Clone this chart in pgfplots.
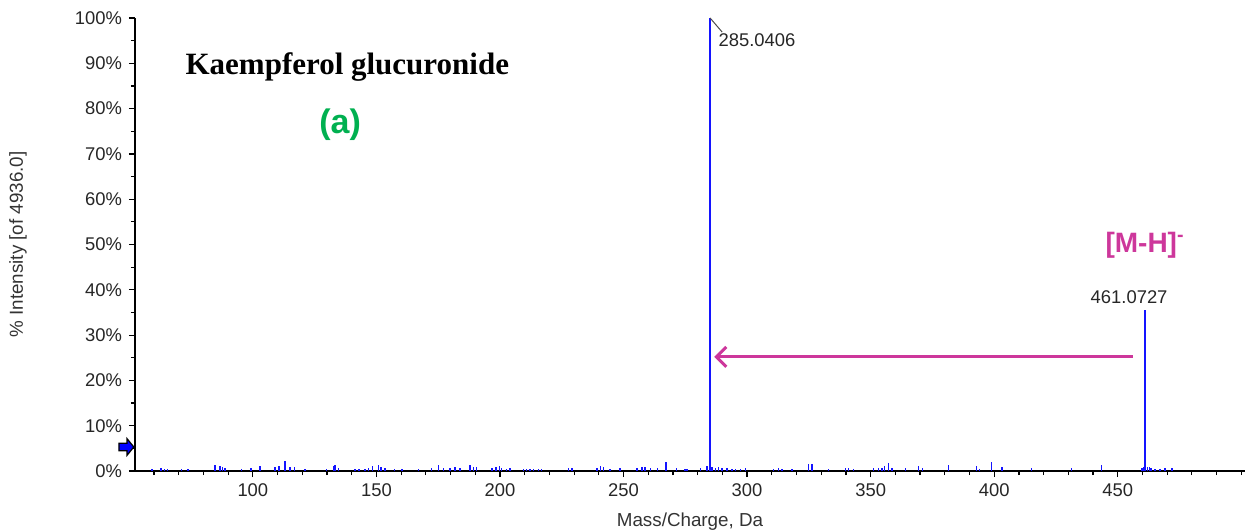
\documentclass[border=0pt]{standalone}
\usepackage{fontspec}
\setmainfont{Liberation Sans}
\newfontfamily\seriffont{Liberation Serif}
\usepackage{pgfplots}
\pgfplotsset{compat=1.18}
\usetikzlibrary{arrows.meta}
\definecolor{mag}{RGB}{205,55,155}
\definecolor{grn}{RGB}{0,176,80}
\definecolor{pk}{RGB}{20,20,255}
\begin{document}
\begin{tikzpicture}
\begin{axis}[
 name=ax,
 scale only axis, width=555pt, height=226.5pt,
 xmin=52.3, xmax=501.5, ymin=0, ymax=100,
 axis x line=bottom, axis y line=left,
 axis line style={-, line width=0.9pt, black},
 tick align=outside,
 xtick={100,150,...,450}, minor xtick={60,70,...,500},
 ytick={0,10,...,100}, minor ytick={5,15,...,95},
 major tick length=3pt, minor tick length=2pt,
 every tick/.style={black, line width=0.6pt},
 yticklabel={\pgfmathprintnumber{\tick}\%},
 ticklabel style={font=\fontsize{9.2}{10}\selectfont, text=black!85},
 /pgf/number format/assume math mode=true,
 xlabel={Mass/Charge, Da}, ylabel={\% Intensity [of 4936.0]},
 label style={font=\fontsize{9.4}{10}\selectfont, text=black!80},
 xlabel style={at={(axis description cs:0.5,-0.1126)}, anchor=center},
 ylabel style={at={(axis description cs:-0.1054,0.5)}, anchor=center},
 clip=false,
]
\addplot[ycomb, pk, line width=0.7pt, mark=none] coordinates {
(59.1,0.5) (62.9,0.6) (64.2,0.5) (65.4,0.5) (71.2,0.4) (73.7,0.4)
(84.7,1.3) (86.7,1.0) (87.7,0.8) (88.8,0.6) (95.5,0.5) (99.3,0.7)
(102.9,1.0) (109.0,0.8) (110.6,1.2) (113.0,2.2) (115.1,0.8) (116.8,0.8)
(121.1,0.5) (129.9,0.5) (132.6,1.0) (133.3,1.4) (134.6,0.7) (141.4,0.5)
(143.0,0.5) (145.4,0.5) (146.8,0.7) (148.4,1.0) (150.8,1.3) (151.9,0.8)
(153.5,0.6) (157.3,0.5) (160.3,0.5)
(167.0,0.5) (172.4,0.6) (175.1,1.4) (177.1,0.6) (179.8,0.6) (181.8,0.8)
(183.9,0.7) (187.9,1.3) (189.3,0.8) (190.6,0.8) (196.7,0.6) (198.4,0.8)
(199.8,1.0) (200.7,0.6) (202.7,0.5) (204.1,0.6) (209.5,0.5) (210.8,0.5)
(212.2,0.5) (213.5,0.5) (215.6,0.5) (216.9,0.4) (227.7,0.6) (229.1,0.6)
(239.2,0.7) (240.8,1.0) (241.9,0.8) (244.6,0.5) (248.6,0.6) (255.4,0.6)
(257.4,0.8) (258.7,0.8) (260.8,0.6) (263.7,0.6) (267.2,2.0) (271.5,0.6)
(274.9,0.5)
(275.7,0.5) (281.1,0.6) (283.8,1.0) (285.8,0.8) (287.1,0.6) (288.5,0.8)
(289.8,0.6) (291.9,0.6) (293.9,0.5) (295.2,0.5) (297.3,0.5) (299.3,0.7)
(310.7,0.5) (312.8,0.6) (314.1,0.5) (318.2,0.5) (324.9,1.5) (326.3,1.5)
(333.0,0.5) (339.8,0.6) (341.1,0.6) (343.1,0.5) (351.2,0.6) (353.2,0.6)
(354.6,0.6) (355.7,1.0) (357.3,1.8) (358.6,0.6) (364.0,0.7) (369.4,1.0)
(371.0,0.6) (381.6,1.4)
(392.9,1.2) (394.0,0.5) (399.0,2.0) (403.1,0.8) (415.2,0.7) (431.4,0.7)
(443.5,1.3) (459.8,0.6) (460.5,0.9) (462.0,0.8) (462.8,0.8) (463.5,0.6)
(465.1,0.5) (467.1,0.4) (469.2,0.7) (471.9,0.6)
};
\addplot[ycomb, pk, line width=0.9pt, mark=none] coordinates {
(285.04,100) (461.07,35.5)
};
\draw[black!70, line width=0.5pt] (axis cs:285.04,100) -- (axis cs:289.9,96.9);
\node[anchor=west, inner sep=0, font=\fontsize{9.2}{10}\selectfont, text=black!85] at (axis cs:288.3,95.1) {285.0406};
\node[anchor=center, inner sep=0, font=\fontsize{9.2}{10}\selectfont, text=black!85] at (axis cs:454.6,38.4) {461.0727};
\node[anchor=west, inner sep=0, font=\seriffont\bfseries\fontsize{15.5}{18}\selectfont] at (axis cs:72.6,89.2) {Kaempferol glucuronide};
\node[inner sep=0, font=\bfseries\fontsize{17}{20}\selectfont, text=grn] at (axis cs:135.3,76.4) {(a)};
\node[anchor=west, inner sep=0, font=\bfseries\fontsize{14}{16}\selectfont, text=mag] at (axis cs:444.9,49.9) {{[}M-H{]}\textsuperscript{-}};
\draw[mag, line width=1.5pt, {Straight Barb[length=5pt,width=10pt]}-] (axis cs:286.7,25.2) -- (axis cs:456.2,25.2);
\coordinate (mk) at (rel axis cs:0,0.053);
\end{axis}
\draw[shift={(mk)}, fill=blue, draw=black, line width=0.6pt]
  (-8pt,1.9pt) -- (-4pt,1.9pt) -- (-4pt,4.2pt) -- (-0.6pt,0pt) -- (-4pt,-4.2pt) -- (-4pt,-1.9pt) -- (-8pt,-1.9pt) -- cycle;
\pgfresetboundingbox
\path[use as bounding box] (ax.south west) ++(-67.5pt,-30pt) rectangle ++(624pt,265.5pt);
\end{tikzpicture}
\end{document}
